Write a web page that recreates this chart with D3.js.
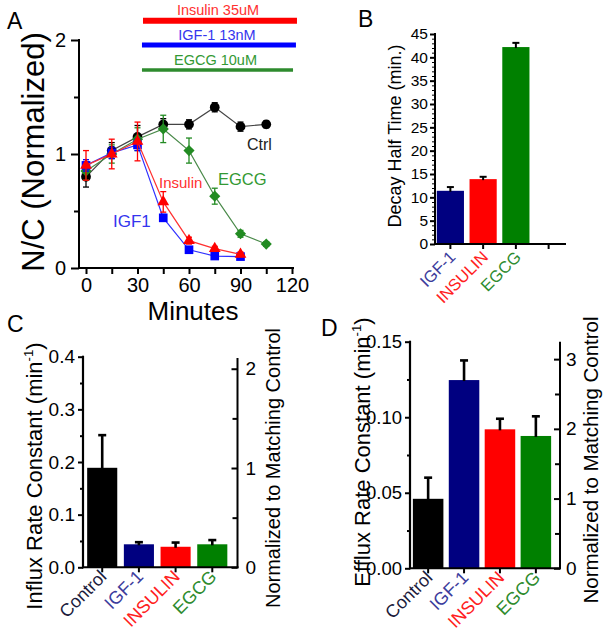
<!DOCTYPE html>
<html><head><meta charset="utf-8">
<script src="https://cdn.jsdelivr.net/npm/d3@7"></script>
<style>body{margin:0;background:#fff}</style></head>
<body><svg id="c" width="604" height="641"></svg>
<script>
// ---------- DATA ----------
// Panel A
const times = [0, 15, 30, 45, 60, 75, 90, 105];
const ctrlVals = [0.80, 1.03, 1.15, 1.26, 1.26, 1.41, 1.24, 1.26];
const ctrlErr  = [0.09, 0.07, 0.10, 0.05, 0.04, 0.04, 0.04, 0.03];
const egcgVals = [0.85, 1.00, 1.13, 1.22, 1.03, 0.63, 0.30, 0.21];
const egcgErr  = [0.08, 0.08, 0.10, 0.12, 0.11, 0.07, 0.03, 0.02];
const insulinVals = [0.90, 1.00, 1.11, 0.58, 0.24, 0.17, 0.12];
const insulinErr  = [0.13, 0.13, 0.17, 0.09, 0.03, 0.02, 0.02];
const igf1Vals = [0.90, 1.01, 1.08, 0.44, 0.16, 0.105, 0.10];
const igf1Err  = [0.05, 0.05, 0.05, 0.03, 0.02, 0.02, 0.02];
const xTicksA = [0, 30, 60, 90, 120];
const yTicksA = [0, 1, 2];
const treatLabels = ["Insulin 35uM", "IGF-1 13nM", "EGCG 10uM"];
const treatStart = [33.2, 32.6, 32.6];
const treatEnd = [122.9, 122.3, 120.6];
// Panel B
const catsB = ["IGF-1", "INSULIN", "EGCG", ""];
const halfTime = [11.4, 13.9, 42.2];
const halfTimeErr = [0.8, 0.5, 0.9];
// Panel C
const catsCD = ["Control", "IGF-1", "INSULIN", "EGCG"];
const influx = [0.189, 0.0437, 0.039, 0.0437];
const influxErr = [0.062, 0.004, 0.008, 0.008];
// Panel D
const efflux = [0.046, 0.1246, 0.092, 0.0876];
const effluxErr = [0.014, 0.013, 0.007, 0.013];

// ---------- STYLE ----------
const FONT = "'Liberation Sans', Arial, Helvetica, sans-serif";
const barColor = {"Control": "#000000", "IGF-1": "#000080", "INSULIN": "#ff0000", "EGCG": "#008000"};
const labColor = {"Control": "#1c1c3c", "IGF-1": "#3c3c9c", "INSULIN": "#ff2020", "EGCG": "#2e8b2e", "": "#000"};
const RED = "#ff0000", BLUE = "#0000ff", GREEN = "#2e8b2e";

const svg = d3.select("#c").style("font-family", FONT);
svg.append("rect").attr("width", 604).attr("height", 641).attr("fill", "#fff");

function txt(g, x, y, s, size, opts = {}) {
  const t = g.append("text").attr("x", x).attr("y", y).text(s)
    .attr("font-size", size).attr("fill", opts.fill || "#000")
    .attr("text-anchor", opts.anchor || "start");
  return t;
}
function vlabel(g, cx, cy, size, parts) {
  const t = g.append("text").attr("transform", `translate(${cx},${cy}) rotate(-90)`)
    .attr("text-anchor", "middle").attr("dy", "0.35em").attr("font-size", size).attr("fill", "#000");
  parts.forEach(p => {
    const ts = t.append("tspan").text(p.t);
    if (p.sup) ts.attr("font-size", size * 0.6).attr("dy", -size * 0.4);
    if (p.down) ts.attr("dy", size * 0.4);
  });
  return t;
}
function styleAxis(sel, size) {
  sel.select(".domain").remove();
  sel.selectAll(".tick line").attr("stroke", "#000").attr("stroke-width", 2);
  sel.selectAll(".tick text").attr("font-size", size).attr("font-family", FONT).attr("fill", "#000");
}
function line(g, x1, y1, x2, y2, w, c) {
  g.append("line").attr("x1", x1).attr("y1", y1).attr("x2", x2).attr("y2", y2)
    .attr("stroke", c || "#000").attr("stroke-width", w || 2);
}

// ---------- PANEL A ----------
{
  const g = svg.append("g");
  const x = d3.scaleLinear().domain([0, 120]).range([86, 292]);
  const y = d3.scaleLinear().domain([0, 2]).range([268, 40]);
  const ya = g.append("g").attr("transform", "translate(79,0)")
    .call(d3.axisLeft(y).tickValues(yTicksA).tickSize(8).tickPadding(5).tickFormat(d3.format("d")));
  styleAxis(ya, 20);
  const ym = g.append("g").attr("transform", "translate(79,0)")
    .call(d3.axisLeft(y).tickValues([0.5, 1.5]).tickSize(5).tickFormat(""));
  styleAxis(ym, 10);
  const xa = g.append("g").attr("transform", "translate(0,268)")
    .call(d3.axisBottom(x).tickValues(d3.range(0, 121, 15)).tickSize(6).tickPadding(4)
      .tickFormat(d => xTicksA.includes(d) ? d : ""));
  styleAxis(xa, 20);
  line(g, 79, 39, 79, 269, 2);
  line(g, 78, 268, 294, 268, 2);
  txt(g, 193, 320, "Minutes", 26, {anchor: "middle"});
  vlabel(g, 33, 152, 31, [{t: "N/C (Normalized)"}]);
  txt(g, 7, 29, "A", 23);

  const tb = [{c: RED, w: 6, yb: 20.7, ly: 15, lc: "#ff3030"},
              {c: BLUE, w: 5, yb: 45, ly: 40, lc: "#3535ee"},
              {c: GREEN, w: 3.5, yb: 70, ly: 65, lc: "#339933"}];
  tb.forEach((d, i) => {
    line(g, x(treatStart[i]), d.yb, x(treatEnd[i]), d.yb, d.w, d.c);
    txt(g, (x(treatStart[i]) + x(treatEnd[i])) / 2 - 2, d.ly, treatLabels[i], 14.5, {anchor: "middle", fill: d.lc});
  });

  function series(vals, errs, color, lineColor, sym, size, rot) {
    const pts = vals.map((v, i) => ({t: times[i], v, e: errs[i]}));
    g.append("path").datum(pts).attr("fill", "none").attr("stroke", lineColor).attr("stroke-width", 1.2)
      .attr("d", d3.line().x(d => x(d.t)).y(d => y(d.v)));
    pts.forEach(d => {
      line(g, x(d.t), y(d.v - d.e), x(d.t), y(d.v + d.e), 1.3, color);
      line(g, x(d.t) - 3, y(d.v + d.e), x(d.t) + 3, y(d.v + d.e), 1.3, color);
      line(g, x(d.t) - 3, y(d.v - d.e), x(d.t) + 3, y(d.v - d.e), 1.3, color);
    });
    g.selectAll(null).data(pts).enter().append("path")
      .attr("d", d3.symbol().type(sym).size(size))
      .attr("transform", d => `translate(${x(d.t)},${y(d.v)}) rotate(${rot || 0})`)
      .attr("fill", color);
  }
  series(ctrlVals, ctrlErr, "#000", "#444", d3.symbolCircle, 75);
  series(egcgVals, egcgErr, "#228b22", "#4a8a4a", d3.symbolSquare, 62, 45);
  series(igf1Vals, igf1Err, BLUE, "#3030ff", d3.symbolSquare, 75);
  series(insulinVals, insulinErr, RED, "#ff3030", d3.symbolTriangle, 60);

  txt(g, 247, 150, "Ctrl", 16, {fill: "#222"});
  txt(g, 218, 185, "EGCG", 16.5, {fill: "#339933"});
  txt(g, 159, 188, "Insulin", 15, {fill: "#ff3030"});
  txt(g, 113, 227, "IGF1", 17, {fill: "#3535ee"});
}

function bars(g, xs, y, cats, vals, errs, capW, errW) {
  cats.forEach((c, i) => {
    if (vals[i] === undefined) return;
    g.append("rect").attr("x", xs(c)).attr("width", xs.bandwidth())
      .attr("y", y(vals[i])).attr("height", y(0) - y(vals[i])).attr("fill", barColor[c]);
    const cx = xs(c) + xs.bandwidth() / 2;
    line(g, cx, y(vals[i]) + 1, cx, y(vals[i] + errs[i]), errW);
    line(g, cx - capW / 2, y(vals[i] + errs[i]), cx + capW / 2, y(vals[i] + errs[i]), errW);
  });
}
function catLabels(g, xs, cats, yAxis, dx, dy, size) {
  cats.forEach(c => {
    if (!c) return;
    const cx = xs(c) + xs.bandwidth() / 2 + dx;
    g.append("text").attr("transform", `translate(${cx},${yAxis + dy}) rotate(-45)`)
      .attr("text-anchor", "end").attr("dy", "0.35em").attr("font-size", size)
      .attr("fill", labColor[c]).text(c);
  });
}
function xTicks(g, xs, cats, yAxis) {
  cats.forEach(c => {
    const cx = xs(c) + xs.bandwidth() / 2;
    line(g, cx, yAxis, cx, yAxis + 5, 2);
  });
}

// ---------- PANEL B ----------
{
  const g = svg.append("g");
  const y = d3.scaleLinear().domain([0, 45]).range([244, 34]);
  const xs = d3.scaleBand().domain(catsB).range([434, 565]).paddingInner(0.17).paddingOuter(0.085);
  bars(g, xs, y, ["IGF-1", "INSULIN", "EGCG"], halfTime, halfTimeErr, 7, 2);
  const ya = g.append("g").attr("transform", "translate(435,0)")
    .call(d3.axisLeft(y).tickValues(d3.range(0, 46, 5)).tickSize(5).tickPadding(2));
  styleAxis(ya, 15.5);
  const ym = g.append("g").attr("transform", "translate(435,0)")
    .call(d3.axisLeft(y).tickValues(d3.range(0, 46, 1).filter(v => v % 5)).tickSize(3).tickFormat(""));
  styleAxis(ym, 10);
  ym.selectAll(".tick line").attr("stroke-width", 1);
  line(g, 435, 33, 435, 245, 2);
  line(g, 434, 244, 566, 244, 2);
  xTicks(g, xs, catsB, 244);
  catLabels(g, xs, catsB, 244, 2, 10, 16.5);
  vlabel(g, 395, 136, 18, [{t: "Decay Half Time (min.)"}]);
  txt(g, 358, 27, "B", 23);
}

// ---------- PANEL C ----------
{
  const g = svg.append("g");
  const y = d3.scaleLinear().domain([0, 0.4]).range([567.3, 356.7]);
  const yr = d3.scaleLinear().domain([0, 2.1]).range([567.3, 358.8]);
  const xs = d3.scaleBand().domain(catsCD).range([83.5, 231]).paddingInner(0.18).paddingOuter(0.1);
  bars(g, xs, y, catsCD, influx, influxErr, 8, 2.6);
  const ya = g.append("g").attr("transform", "translate(83,0)")
    .call(d3.axisLeft(y).tickValues([0, 0.1, 0.2, 0.3, 0.4]).tickSize(5).tickPadding(3).tickFormat(d3.format(".1f")));
  styleAxis(ya, 19);
  const ym = g.append("g").attr("transform", "translate(83,0)")
    .call(d3.axisLeft(y).tickValues([0.05, 0.15, 0.25, 0.35]).tickSize(3).tickFormat(""));
  styleAxis(ym, 10);
  const yb = g.append("g").attr("transform", "translate(237.5,0)")
    .call(d3.axisRight(yr).tickValues([0, 1, 2]).tickSize(-6).tickPadding(8).tickFormat(d3.format("d")));
  styleAxis(yb, 19);
  const ybm = g.append("g").attr("transform", "translate(237.5,0)")
    .call(d3.axisRight(yr).tickValues([0.5, 1.5]).tickSize(-5).tickFormat(""));
  styleAxis(ybm, 10);
  line(g, 83, 355.7, 83, 568.3, 2.2);
  line(g, 237.5, 358, 237.5, 568.3, 2);
  line(g, 82, 567.3, 238.5, 567.3, 2);
  xTicks(g, xs, catsCD, 567.3);
  catLabels(g, xs, catsCD, 567.3, 1, 6, 18);
  vlabel(g, 34, 476, 22, [{t: "Influx Rate Constant (min"}, {t: "-1", sup: true}, {t: ")", down: true}]);
  vlabel(g, 273, 468, 20, [{t: "Normalized to Matching Control"}]);
  txt(g, 7, 332, "C", 23);
}

// ---------- PANEL D ----------
{
  const g = svg.append("g");
  const y = d3.scaleLinear().domain([0, 0.15]).range([568.3, 341.7]);
  const yr = d3.scaleLinear().domain([0, 3.25]).range([568.3, 341.7]);
  const xs = d3.scaleBand().domain(catsCD).range([410, 554]).paddingInner(0.15).paddingOuter(0.08);
  bars(g, xs, y, catsCD, efflux, effluxErr, 8, 2.6);
  const ya = g.append("g").attr("transform", "translate(410,0)")
    .call(d3.axisLeft(y).tickValues([0, 0.05, 0.10, 0.15]).tickSize(5).tickPadding(3).tickFormat(d3.format(".2f")));
  styleAxis(ya, 18.5);
  const ym = g.append("g").attr("transform", "translate(410,0)")
    .call(d3.axisLeft(y).tickValues([0.025, 0.075, 0.125]).tickSize(3).tickFormat(""));
  styleAxis(ym, 10);
  const yb = g.append("g").attr("transform", "translate(560,0)")
    .call(d3.axisRight(yr).tickValues([0, 1, 2, 3]).tickSize(-6).tickPadding(6).tickFormat(d3.format("d")));
  styleAxis(yb, 19);
  const ybm = g.append("g").attr("transform", "translate(560,0)")
    .call(d3.axisRight(yr).tickValues([0.5, 1.5, 2.5]).tickSize(-5).tickFormat(""));
  styleAxis(ybm, 10);
  line(g, 410, 340.7, 410, 569.3, 2.2);
  line(g, 560, 341.7, 560, 569.3, 2);
  line(g, 409, 568.3, 561, 568.3, 2);
  xTicks(g, xs, catsCD, 568.3);
  catLabels(g, xs, catsCD, 568.3, 1, 6, 18);
  vlabel(g, 362, 452, 22, [{t: "Efflux Rate Constant (min"}, {t: "-1", sup: true}, {t: ")", down: true}]);
  vlabel(g, 591, 460, 20.5, [{t: "Normalized to Matching Control"}]);
  txt(g, 321, 336, "D", 23);
}
</script></body></html>
